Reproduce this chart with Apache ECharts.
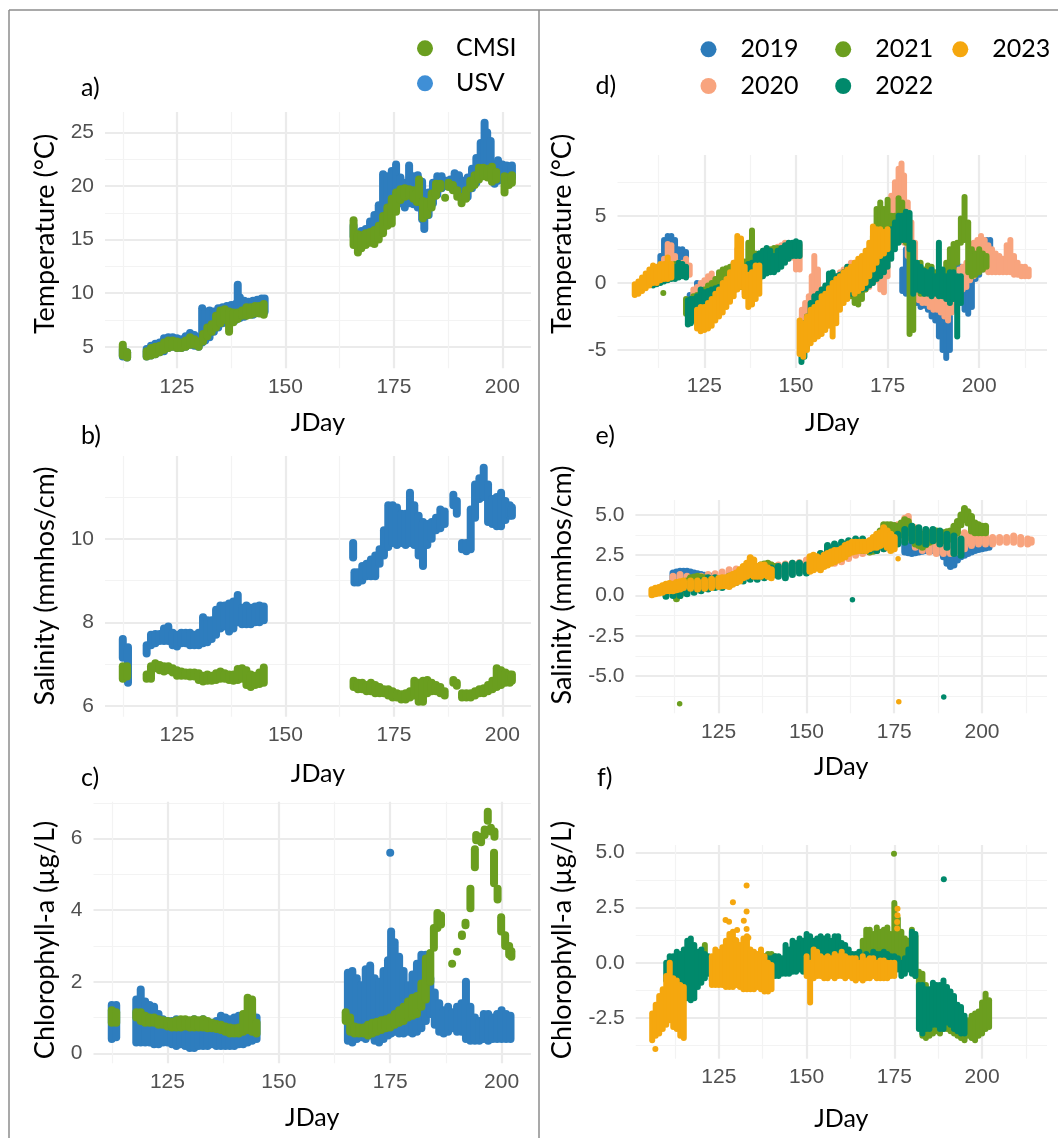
<!DOCTYPE html>
<html>
<head>
<meta charset="utf-8">
<script src="https://cdn.jsdelivr.net/npm/echarts@6/dist/echarts.min.js"></script>
<style>
  html, body { margin: 0; padding: 0; background: #ffffff; }
  #chart { width: 1058px; height: 1138px; }
</style>
</head>
<body>
<div id="chart"></div>
<script>
// Readings are stored as [JDay, low, high]: the spread of the logged values on that day.
// Isolated readings are stored as [JDay, value].

// ---------- tick values ----------
const jdayTicks = [125, 150, 175, 200];
const jdayMinorLeft = [112.5, 137.5, 162.5, 187.5];
const jdayMinorRight = [112.5, 137.5, 162.5, 187.5, 212.5];
const tempTicksL = [5, 10, 15, 20, 25];
const tempMinorL = [7.5, 12.5, 17.5, 22.5];
const salTicksL = [6, 8, 10];
const salMinorL = [7, 9, 11];
const chlTicksL = [0, 2, 4, 6];
const chlMinorL = [1, 3, 5, 7];
const tempTicksR = [-5, 0, 5];
const tempMinorR = [-2.5, 2.5, 7.5];
const salTicksR = [-5, -2.5, 0, 2.5, 5];
const salMinorR = [-6.25, -3.75, -1.25, 1.25, 3.75];
const chlTicksR = [-2.5, 0, 2.5, 5];
const chlMinorR = [-3.75, -1.25, 1.25, 3.75];

// ---------- a) temperature, USV vs CMSI ----------
const tempUSV = [
  [112.5,4.1,4.8],[113.5,4.0,4.5],
  [118,4.1,4.8],[119,4.2,5.1],[120,4.3,5.3],[121,4.5,5.4],[122,4.6,5.8],[123,4.9,5.9],[124,5.0,5.9],[125,4.9,5.8],
  [126,4.9,5.7],[127,5.0,6.0],[128,5.2,6.3],[129,5.1,6.1],[130,5.0,5.9],[130.8,5.4,8.6],[131.5,5.6,8.3],[132.5,5.9,8.4],
  [133.5,6.4,8.3],[134.5,6.8,8.6],[135.5,7.2,8.7],[136.5,7.4,8.8],[137.5,7.3,8.9],[138.5,7.5,9.0],[139,7.7,10.8],
  [139.5,7.7,9.6],[140.5,7.8,9.3],[141.5,8.0,9.2],[142.5,8.0,9.3],[143.5,8.2,9.4],[144.5,8.3,9.5],[145.2,8.3,9.5],
  [165.7,15.3,16.3],[166.5,14.8,15.6],[167.5,14.7,15.8],[168.5,14.9,16.0],[169.5,15.1,16.7],[170.5,15.2,17.3],
  [171.5,15.5,18.2],[172.5,16.0,21.1],[173.5,16.8,20.9],[174.5,17.5,21.4],[175.5,18.2,22.0],[176.5,18.4,20.8],
  [177.5,18.0,20.3],[178.5,18.4,21.9],[179.5,18.3,20.9],[180.5,18.0,21.0],[181.5,16.9,20.4],[182,16.0,19.0],
  [183,17.3,19.4],[184,18.4,20.3],[185,19.2,20.9],[186,19.8,20.9],[187,20.0,20.5],[188,20.0,20.6],[189,19.8,21.2],
  [190,19.9,21.0],[191,19.1,20.5],[192,19.0,20.8],[193,19.8,21.6],[194,20.3,22.6],[195,21.0,24.0],[195.9,21.0,25.9],
  [196.5,21.0,25.0],[197.3,21.2,24.2],[198.2,20.2,22.0],[199,20.5,22.4],[200,20.6,22.0],[201,20.7,21.9],[202.2,20.8,21.9]
];
const tempCMSI = [
  [112.5,4.2,5.2],[113.5,4.0,4.5],
  [118,4.1,4.6],[119,4.2,4.9],[120,4.3,5.0],[121,4.5,5.1],[122,4.7,5.4],[123,4.9,5.6],[124,5.0,5.6],[125,4.9,5.5],
  [126,4.9,5.4],[127,5.0,5.6],[128,5.2,5.9],[129,5.2,5.7],[130,5.0,5.5],[131,5.5,6.2],[132,6.0,6.8],[133,6.4,7.1],
  [134,6.8,7.9],[135,7.2,8.4],[136,7.5,8.5],[137,6.4,8.3],[138,7.3,8.2],[139,7.6,8.2],[140,7.9,8.4],[141,7.9,8.7],
  [142,8.0,8.7],[143,8.1,8.8],[144,8.1,8.8],[145,8.0,9.0],
  [165.7,14.5,16.8],[166.7,13.8,15.5],[167.5,14.2,15.4],[168.5,14.5,15.6],[169.5,14.7,15.7],[170.5,14.6,15.9],
  [171.5,15.0,16.3],[172.5,15.6,17.2],[173.5,16.3,18.0],[174.5,16.5,18.8],[175.5,17.6,19.4],[176.5,18.7,19.7],
  [177.5,19.0,19.8],[178.5,19.1,19.7],[179.5,18.8,19.6],[180.3,18.5,19.5],[180.8,18.5,20.6],[181.7,17.0,18.6],
  [182.7,17.3,18.5],[183.7,18.0,19.3],[184.7,19.1,20.2],[185.7,19.8,20.2],[186.8,18.9,18.9],[187.6,19.9,20.3],
  [188.6,19.6,20.1],[189.6,19.0,19.6],[190.6,18.4,19.0],[191.6,18.8,19.6],[192.6,19.8,20.5],[193.6,20.1,21.0],
  [194.6,20.6,21.7],[195.6,20.9,21.7],[196.6,20.8,21.6],[197.6,20.4,21.8],[198.6,20.6,21.3],[200.5,19.4,20.9],
  [201.5,20.1,20.8],[202.2,20.3,21.0]
];

// ---------- b) salinity, USV vs CMSI ----------
const salUSV = [
  [112.5,7.15,7.6],[113.7,6.55,7.4],
  [118,7.25,7.45],[119,7.45,7.7],[120,7.5,7.72],[121,7.55,7.72],[122,7.55,7.85],[123,7.55,7.9],[124,7.45,7.75],
  [125,7.42,7.7],[126,7.5,7.75],[127,7.5,7.75],[128,7.45,7.75],[129,7.45,7.7],[130,7.45,7.75],[131,7.5,8.12],
  [132,7.52,8.05],[133,7.6,8.05],[134,7.7,8.3],[135,7.85,8.4],[136,7.9,8.4],[137,7.78,8.45],[138,7.85,8.5],
  [139,8.0,8.65],[140,7.95,8.35],[141,7.95,8.4],[142,7.95,8.35],[143,8.0,8.38],[144,8.0,8.4],[145,8.05,8.38],
  [165.6,9.55,9.9],[165.9,8.95,9.2],[166.7,8.95,9.2],[167.7,9.0,9.35],[168.7,9.1,9.4],[169.7,9.1,9.5],[170.7,9.1,9.6],
  [171.7,9.4,9.75],[172.7,9.6,10.2],[173.7,9.8,10.8],[174.7,9.9,10.8],[175.7,9.85,10.75],[176.7,9.9,10.6],
  [177.7,9.85,10.6],[178.7,9.9,11.1],[179.7,9.85,10.8],[180.7,9.6,10.55],[181.7,9.35,10.4],[182.7,9.85,10.35],
  [183.7,10.0,10.4],[184.7,10.2,10.5],[185.7,10.25,10.7],[186.7,10.35,10.65],[188.7,10.8,11.05],[189.5,10.6,10.9],
  [190.7,9.75,9.9],[191.7,9.7,9.9],[192.7,9.75,10.7],[193.7,10.5,11.3],[194.7,10.95,11.45],[195.7,11.0,11.7],
  [196.7,10.4,11.3],[197.7,10.35,10.95],[198.7,10.3,11.0],[199.7,10.3,11.1],[200.7,10.45,10.9],[201.7,10.55,10.8],
  [202.2,10.55,10.75]
];
const salCMSI = [
  [112.5,6.65,6.95],[113.5,6.7,6.95],
  [118,6.65,6.75],[119,6.65,6.95],[120,6.9,7.02],[121,6.85,6.98],[122,6.82,6.95],[123,6.85,6.95],[124,6.8,6.9],
  [125,6.72,6.85],[126,6.72,6.82],[127,6.72,6.8],[128,6.7,6.8],[129,6.7,6.8],[130,6.62,6.78],[131,6.58,6.72],
  [132,6.6,6.75],[133,6.6,6.72],[134,6.62,6.78],[135,6.65,6.82],[136,6.65,6.78],[137,6.62,6.75],[138,6.6,6.75],
  [139,6.62,6.88],[140,6.65,6.9],[141,6.5,6.85],[142,6.45,6.75],[143,6.5,6.72],[144,6.52,6.8],[145,6.55,6.92],
  [165.7,6.45,6.6],[166.7,6.4,6.55],[167.7,6.4,6.55],[168.7,6.35,6.5],[169.7,6.35,6.55],[170.7,6.3,6.5],
  [171.7,6.3,6.45],[172.7,6.3,6.4],[173.7,6.25,6.4],[174.7,6.2,6.35],[175.7,6.2,6.3],[176.7,6.15,6.28],
  [177.7,6.15,6.3],[178.7,6.2,6.35],[179.7,6.25,6.6],[180.7,6.1,6.55],[181.7,6.1,6.6],[182.7,6.3,6.62],
  [183.7,6.35,6.55],[184.7,6.35,6.5],[185.7,6.3,6.45],[186.7,6.25,6.35],[188.7,6.55,6.62],[189.5,6.48,6.55],
  [190.7,6.2,6.3],[191.7,6.2,6.3],[192.7,6.2,6.3],[193.7,6.25,6.35],[194.7,6.3,6.4],[195.7,6.3,6.42],
  [196.7,6.35,6.5],[197.7,6.4,6.6],[198.7,6.45,6.9],[199.7,6.5,6.85],[200.7,6.55,6.8],[201.7,6.55,6.75],
  [202.2,6.6,6.75]
];

// ---------- c) chlorophyll-a, USV vs CMSI ----------
const chlUSV = [
  [112.5,0.4,1.35],[113.5,0.45,1.35],
  [118,0.3,1.5],[119,0.3,1.78],[120,0.3,1.45],[121,0.3,1.35],[122,0.25,1.3],[123,0.25,1.1],[124,0.3,0.95],
  [125,0.3,0.9],[126,0.25,0.9],[127,0.2,0.95],[128,0.25,0.9],[129,0.2,0.85],[130,0.15,0.9],[131,0.15,0.95],
  [132,0.2,0.9],[133,0.2,0.95],[134,0.2,0.85],[135,0.25,0.85],[136,0.2,0.9],[137,0.2,1.05],[138,0.2,1.0],
  [139,0.2,0.95],[140,0.2,1.0],[141,0.25,1.05],[142,0.25,1.0],[143,0.3,1.1],[144,0.35,1.15],[145,0.4,1.0],
  [165.5,0.35,2.25],[166.5,0.3,2.3],[167.5,0.4,2.1],[168.5,0.45,1.9],[169.5,0.4,2.35],[170.5,0.5,2.45],
  [171.5,0.35,2.1],[172.5,0.3,2.0],[173.5,0.4,2.3],[174.5,0.5,2.6],[175.2,0.55,3.4],[176,0.6,3.1],[177,0.55,2.7],
  [178,0.55,2.3],[179,0.6,1.9],[180,0.55,2.2],[181,0.6,2.5],[182,0.7,2.75],[183,0.9,2.75],[184,1.1,2.1],
  [185,0.8,1.7],[186,0.6,1.4],[187,0.55,1.2],[188,0.6,1.3],[189,0.7,1.15],[190,0.6,1.3],[191,0.6,1.4],
  [192,0.4,2.0],[193,0.35,1.3],[194,0.35,1.0],[195,0.35,0.9],[196,0.4,1.1],[197,0.35,1.1],[198,0.4,1.0],
  [199,0.4,1.1],[200,0.4,1.2],[201,0.4,1.1],[202,0.4,1.05]
];
const chlUSVSingles = [[175, 5.6]];
const chlCMSI = [
  [112.5,0.85,1.2],[113.5,0.85,1.15],
  [118,1.0,1.15],[119,0.9,1.15],[120,0.85,1.05],[121,0.85,1.0],[122,0.85,1.0],[123,0.8,0.95],[124,0.8,0.92],
  [125,0.75,0.9],[126,0.72,0.88],[127,0.72,0.92],[128,0.72,0.95],[129,0.75,0.95],[130,0.72,0.92],[131,0.72,0.95],
  [132,0.72,0.92],[133,0.72,0.95],[134,0.7,0.9],[135,0.7,0.85],[136,0.68,0.82],[137,0.65,0.8],[138,0.6,0.75],
  [139,0.55,0.72],[140,0.55,0.7],[141,0.55,0.72],[142,0.6,1.1],[143,0.65,1.55],[144,0.6,1.5],[145,0.55,0.85],
  [165,0.9,1.15],[166,0.6,1.0],[167,0.55,0.75],[168,0.55,0.72],[169,0.55,0.72],[170,0.5,0.8],[171,0.55,0.85],
  [172,0.6,0.88],[173,0.65,0.92],[174,0.7,0.95],[175,0.72,1.0],[176,0.8,1.1],[177,0.85,1.2],[178,0.9,1.3],
  [179,1.0,1.45],[180,1.05,1.55],[181,1.1,1.6],[182,1.3,1.95],[183,1.5,2.65],[184,2.0,2.8],[184.8,2.95,3.5],
  [185.6,3.5,3.92],[186.4,3.6,3.85],
  [188.9,2.5,2.5],[190,2.84,2.84],[191.1,3.28,3.32],[191.9,3.58,3.65],[193,4.05,4.6],[194,5.2,5.7],[194.3,5.95,6.1],
  [195.4,5.9,6.05],[196.2,6.1,6.25],[196.9,6.5,6.75],[197.6,6.2,6.3],[198.4,6.05,6.2],[198.3,4.75,5.6],
  [199.1,4.3,4.6],[199.9,3.4,3.8],[200.8,3.0,3.3],[201.7,2.75,3.0],[202.2,2.7,2.85]
];

// ---------- d) temperature by year ----------
const dTemp2019 = [
  [113,1.0,2.0],[114,1.2,3.2],[115,1.5,3.5],[116,1.4,3.5],[117,1.2,3.2],[118,1.2,2.5],[119,0.8,2.5],[120,0.8,2.3],
  [121,-1.8,-0.9],[122,-1.5,-0.8],[123,-1.2,0.0],[124,-1.0,-0.3],
  [179,-0.6,1.0],[180,-0.8,2.5],[181,-0.5,0.5],[182,-1.5,-0.5],[183,-1.5,-0.8],[184,-1.8,-1.0],[185,-1.7,-1.0],
  [186,-2.0,-1.2],[187,-2.5,-1.3],[188,-2.8,-1.5],[189,-4.0,-2.0],[190,-5.0,-2.5],[191,-5.6,-3.0],[192,-5.0,-2.5],
  [193,-2.0,-0.5],[194,0.3,1.4],[195,0.2,1.2],[196,-2.0,-0.3],[197,-2.3,-0.5],[198,-1.8,0.3],[199,0.3,1.0],
  [200,0.6,1.5],[201,1.0,2.2],[202,2.2,3.2],[203,2.2,3.2]
];
const dTemp2020 = [
  [113,0.4,1.2],[114,0.6,1.8],[115,1.0,2.9],[116,1.0,2.8],[117,0.7,2.0],[118,0.8,1.5],[119,0.6,1.5],[120,0.6,1.8],
  [121,0.6,1.3],
  [122,-2.0,-0.5],[123,-1.8,-0.3],[124,-1.5,0.0],[125,-1.3,0.2],[126,-1.0,0.5],[127,-1.0,0.7],[128,-0.8,0.3],
  [129,-0.7,0.4],[130,-0.5,0.5],[131,-0.5,0.3],[132,-0.3,0.9],[133,-0.3,1.5],[134,-0.3,2.5],[135,0.0,2.0],
  [136,-0.8,1.0],[137,-0.5,1.0],[138,-0.2,1.3],[139,0.2,1.6],[140,0.5,1.8],[141,0.8,2.0],[142,1.0,2.0],
  [143,1.2,2.2],[144,1.4,2.4],[145,1.6,2.7],[146,1.6,2.8],[147,1.8,3.0],[148,1.8,2.8],[149,1.9,2.9],[150,1.0,3.0],
  [151,1.0,2.8],
  [151.6,-3.8,-2.0],[152.5,-3.5,-1.5],[153.5,-3.0,-1.0],[154.3,-2.5,0.5],[155,-2.0,2.0],[156,-2.0,1.0],
  [157,-2.5,-0.5],[158,-2.3,-0.3],[159,-2.0,0.0],[160,-1.5,0.3],[161,-1.0,0.5],[162,-0.8,0.8],[163,-0.5,1.0],
  [164,-0.5,1.2],[165,0.0,1.5],[166,0.2,1.5],[167,0.0,1.5],[168,-0.5,1.5],[169,-0.5,2.0],[170,-0.3,2.5],
  [171,0.0,3.0],[172,0.2,3.5],[173,-0.5,4.0],[174,-0.7,4.5],[175,0.5,5.0],[176,3.5,6.5],[177,4.0,7.5],
  [178,3.8,8.5],[178.8,3.5,8.9],[179.5,3.0,8.0],[180.5,2.0,6.0],[181.5,-0.8,4.5],[182.5,-1.0,3.0],
  [183.5,-1.3,0.0],[184.5,-1.5,0.0],[185.5,-1.5,-0.2],[186.5,-1.8,0.0],[187.5,-2.0,-0.3],[188.5,-2.0,-0.3],
  [189.5,-2.2,-0.5],[190.5,-2.5,-0.5],[191.5,-2.8,-0.3],[192.5,-2.2,0.0],[193.5,-1.2,0.8],[194.5,-0.8,1.0],
  [195.5,-0.5,1.2],[196.5,-0.3,1.5],[197.5,0.2,2.8],[198.5,0.5,3.0],[199.5,0.8,3.2],[200.5,1.0,3.5],
  [201.5,1.0,3.2],[202.5,0.8,2.8],[203.5,0.8,2.5],[204.5,0.8,2.2],[205.5,0.8,2.0],[206.5,0.8,1.8],
  [207.5,0.8,2.8],[208.5,0.8,3.2],[209.5,0.6,2.0],[210.5,0.6,1.5],[211.5,0.5,1.2],[212.5,0.5,1.2],[213.5,0.5,1.0]
];
const dTemp2021 = [
  [113.8,-0.75,-0.75],[115,0.5,1.3],[116,0.5,1.3],[117,0.6,1.4],[118,0.6,1.3],
  [120,-2.3,-1.2],[121,-2.2,-1.3],[122,-2.0,-1.0],[123,-1.8,-0.9],[124,-1.6,-0.8],[125,-1.3,-0.5],[126,-1.0,-0.2],
  [127,-0.8,0.0],[128,-0.6,0.3],[129,-0.3,0.8],[130,-0.2,1.0],[131,0.0,1.1],[132,0.2,1.2],[133,0.3,1.4],
  [134,0.5,1.2],[135,0.3,1.0],[136,0.4,1.6],[137,0.5,3.0],[138,0.6,3.9],[139,0.8,2.2],[140,1.0,2.2],[141,1.2,2.4],
  [142,1.4,2.5],[143,1.5,2.5],[144,1.6,2.6],[145,1.6,2.6],[146,1.6,2.4],
  [160,-1.8,-0.3],[161,-1.5,0.0],[162,-1.0,0.3],[163,-0.5,0.8],[164,-0.8,1.0],[165,-1.0,0.8],[166,-1.5,0.5],
  [167,-1.6,0.3],[168,-1.2,0.8],[169,-0.5,1.5],[170,0.0,2.5],[171,0.5,3.5],[172,1.0,5.5],[173,1.5,6.0],
  [174,2.0,5.5],[175,2.5,6.2],[176,3.0,5.0],[177,3.5,5.0],[178,3.5,6.3],[179,3.8,6.0],[180,3.0,5.0],
  [181,-3.8,3.0],[182,-3.5,1.0],
  [183,-0.5,1.2],[184,-0.8,1.5],[185,-0.8,1.0],[186,-0.5,1.3],[187,-0.3,1.2],[188,-0.5,0.8],[189,-0.5,0.5],
  [190,-0.8,0.5],[191,0.0,1.5],[192,0.5,2.5],[193,1.0,2.9],[194,1.5,3.0],[195,3.0,4.8],[196,3.2,6.4],
  [197,0.8,4.5],[198,0.5,2.5],[199,0.6,2.2],[200,0.8,2.5],[201,1.0,2.2],[202,1.2,2.0]
];
const dTemp2022 = [
  [111,-0.2,0.3],[112,-0.1,0.5],[113,0.0,0.7],[114,0.1,0.9],[115,0.2,1.2],[116,0.3,1.3],[117,0.3,1.2],
  [118,0.4,1.5],[119,0.5,1.4],[120,0.4,1.2],
  [120.5,-3.1,-1.3],[121.3,-3.0,-1.2],[122,-2.8,-1.2],[123,-2.5,-1.0],[124,-2.3,-0.5],[125,-2.3,-0.7],
  [126,-2.1,-0.6],[127,-1.8,-0.5],[128,-1.6,-0.4],[129,-1.5,-0.3],[130,-1.3,0.0],[131,-1.0,0.3],[132,-0.8,0.5],
  [133,-0.6,0.6],[134,-0.3,0.8],[135,-0.3,1.0],[136,0.0,1.2],[137,0.0,1.4],[138,0.0,1.5],[139,-0.3,2.0],
  [140,0.3,2.2],[141,0.5,2.4],[142,0.7,2.6],[143,0.8,2.4],[144,0.8,2.0],[145,1.0,2.4],[146,1.2,2.6],
  [147,1.5,2.8],[148,1.8,3.0],[149,2.0,3.0],[150,2.0,3.1],[151,2.0,3.0],
  [151.5,-5.9,-3.5],[152.3,-5.5,-3.0],[153,-4.8,-2.5],[154,-4.0,-1.5],[155,-3.5,-1.0],[156,-3.0,-0.8],
  [157,-2.8,-0.5],[158,-2.5,-0.2],[159,-2.8,0.7],[160,-2.5,0.8],[161,-2.0,0.5],[162,-1.5,0.6],[163,-1.2,0.8],
  [164,-1.0,1.2],[165,-0.8,1.0],[166,-0.5,1.3],[167,-0.5,1.5],[168,-0.5,1.0],[169,-0.4,1.5],[170,-0.2,1.8],
  [171,0.0,2.2],[172,0.3,2.5],[173,0.5,3.0],[174,0.8,3.2],[175,1.2,3.5],[176,1.8,4.0],[177,2.5,4.5],
  [178,3.0,5.0],[179,3.2,5.0],[180,3.2,5.3],[181,2.5,5.2],
  [182,-0.8,3.0],[183,-0.5,1.5],[184,-0.6,1.2],[185,-0.8,0.9],[186,-0.8,0.8],[187,-1.0,1.0],[188,-0.8,0.5],
  [189,-1.0,3.0],[190,-1.0,1.0],[191,-1.2,0.5],[192,-1.5,0.8],[193,-1.2,0.8],[194,-4.0,0.5],[195,-1.5,0.5]
];
const dTemp2023 = [
  [106,-0.9,-0.1],[107,-0.8,0.1],[108,-0.6,0.4],[109,-0.4,0.7],[110,-0.2,1.0],[111,0.0,1.3],[112,0.0,1.2],
  [113,0.2,1.4],[114,0.3,1.4],[115,0.3,1.9],[116,0.4,1.4],
  [123,-3.4,-2.0],[124,-3.6,-1.8],[125,-3.5,-1.8],[126,-3.4,-1.5],[127,-3.2,-1.2],[128,-2.8,-0.8],[129,-2.5,-0.5],
  [130,-2.2,0.0],[131,-1.8,0.3],[132,-1.4,0.8],[133,-1.0,1.5],[134,-0.5,3.5],[135,-0.3,3.3],[136,-1.0,1.2],
  [137,-1.8,0.6],[138,-1.6,0.8],[139,-1.2,1.3],[140,-0.8,1.3],
  [151,-5.3,-2.8],[152,-5.5,-3.0],[153,-5.0,-2.5],[154,-4.5,-2.0],[155,-4.2,-1.8],[156,-4.0,-1.5],
  [157,-3.8,-1.0],[158,-3.5,-0.8],[159,-3.2,-0.4],[160,-4.0,0.0],[161,-3.0,0.3],[162,-2.0,0.5],[163,-1.5,0.8],
  [164,-1.2,1.0],[165,-0.5,1.2],[166,-0.8,1.5],[167,-0.6,1.8],[168,-0.4,2.0],[169,0.0,2.4],[170,0.5,3.0],
  [171,1.0,4.2],[172,1.5,4.0],[173,2.0,4.0],[174,2.2,3.8],[175,2.5,4.0]
];

// ---------- e) salinity by year ----------
const eSal2019 = [
  [112,0.8,1.4],[113,0.85,1.45],[114,0.9,1.5],[115,0.9,1.5],[116,0.9,1.5],[117,0.85,1.45],[118,0.8,1.4],
  [119,0.8,1.35],[120,0.8,1.3],[121,0.75,1.25],[122,0.7,1.2],[123,0.7,1.2],[124,0.7,1.2],
  [178,2.7,3.4],[179,2.65,3.35],[180,2.6,3.3],[181,2.65,3.3],[182,2.7,3.3],[183,2.75,3.3],[184,2.8,3.3],
  [185,2.8,3.25],[186,2.8,3.2],[187,2.75,3.15],[188,2.7,3.1],[189,2.4,3.0],[190,2.0,2.9],[191,1.8,2.6],
  [192,1.9,2.5],[193,2.2,2.8],[194,2.4,3.0],[195,2.5,3.0],[196,2.6,3.0],[197,2.7,3.2],[198,2.8,3.3],
  [199,2.85,3.35],[200,2.9,3.4],[201,2.95,3.4],[202,3.0,3.4]
];
const eSal2020 = [
  [112,0.7,1.2],[114,0.8,1.3],[116,0.8,1.2],[118,0.7,1.1],[120,0.7,1.2],[122,0.8,1.3],[124,0.85,1.35],
  [126,0.9,1.45],[128,1.0,1.6],[130,1.05,1.65],[132,1.1,1.7],[134,1.2,1.8],[136,1.2,1.8],[138,1.25,1.85],
  [140,1.3,1.9],[142,1.35,1.9],[144,1.4,1.95],[146,1.5,2.0],[148,1.55,2.05],[150,1.65,2.2],[152,1.8,2.4],
  [154,1.9,2.6],[156,2.0,2.8],[158,2.0,2.9],[160,2.1,3.0],[162,2.3,3.1],[164,2.5,3.2],[166,2.6,3.3],
  [168,2.7,3.4],[170,2.8,3.5],[172,2.9,3.8],[174,3.0,4.0],[176,3.3,4.4],[178,3.6,4.8],[179,3.5,4.9],
  [181,3.0,4.2],[183,2.8,3.9],[185,2.7,3.6],[187,2.6,3.5],[189,2.6,3.4],[191,2.6,3.4],[193,2.7,3.6],
  [195,2.9,3.9],[197,3.1,3.9],[199,3.2,3.8],[201,3.2,3.7],[203,3.2,3.6],[205,3.3,3.6],[207,3.3,3.6],
  [209,3.3,3.7],[211,3.2,3.6],[213,3.2,3.5],[214,3.3,3.45]
];
const eSal2021 = [
  [113,-0.2,0.3],[114,0.0,0.5],[115,0.2,0.7],[116,0.35,0.9],[117,0.5,1.1],[118,0.55,1.15],[119,0.6,1.2],
  [120,0.6,1.15],[121,0.6,1.1],[122,0.65,1.05],[123,0.7,1.0],
  [135,1.2,1.6],[136,1.25,1.75],[137,1.3,1.9],[138,1.35,1.95],[139,1.4,2.0],[140,1.35,1.9],[141,1.3,1.8],
  [168,2.7,3.3],[169,2.75,3.45],[170,2.8,3.6],[171,3.1,4.0],[172,3.5,4.4],[173,3.7,4.4],[174,3.8,4.4],
  [175,3.75,4.35],[176,3.7,4.3],[177,3.75,4.5],[178,3.8,4.7],[179,3.9,4.6],[180,3.5,4.3],[181,3.2,4.1],
  [182,3.1,3.9],[183,3.0,3.8],[184,3.15,3.85],[185,3.3,3.9],[186,3.4,3.95],[187,3.5,4.0],[188,3.45,3.95],
  [189,3.4,3.9],[190,3.45,3.95],[191,3.5,4.0],[192,3.7,4.3],[193,3.9,4.6],[194,4.4,5.0],[195,4.7,5.4],
  [196,4.5,5.2],[197,4.0,4.9],[198,3.9,4.5],[199,3.9,4.4],[200,3.9,4.3],[201,3.9,4.3]
];
const eSal2021Singles = [[113.9, -6.73]];
const eSal2022 = [
  [110,-0.05,0.3],[112,0.0,0.45],[114,0.0,0.5],[116,0.1,0.6],[118,0.2,0.7],[120,0.3,0.9],[122,0.4,1.1],
  [124,0.5,1.1],[126,0.5,1.0],[128,0.6,1.2],[130,0.8,1.3],[132,0.9,1.4],[134,1.0,1.5],[136,1.0,1.6],
  [138,1.1,1.6],[140,1.2,1.7],[142,1.2,1.8],[144,1.1,1.9],[146,1.3,2.0],[148,1.4,2.0],[150,1.4,1.9],
  [152,1.7,2.2],[154,2.0,2.6],[156,2.3,3.1],[158,2.4,3.2],[160,2.6,3.3],[162,2.8,3.4],[164,3.0,3.5],
  [166,2.8,3.5],[168,2.8,3.3],[170,2.8,3.2],[172,2.9,3.5],[174,3.0,3.6],[176,3.2,3.8],[178,3.3,4.1],
  [180,3.4,4.3],[182,3.3,4.2],[184,3.2,4.1],[186,3.4,4.1],[188,3.2,4.0],[190,3.0,3.8],[192,2.6,3.7],
  [194,2.5,3.5]
];
const eSal2022Singles = [[163.1, -0.27], [189.1, -6.3]];
const eSal2023 = [
  [106,0.05,0.35],[107,0.1,0.45],[108,0.15,0.5],[109,0.2,0.6],[110,0.3,0.7],[111,0.3,0.75],[112,0.3,0.7],
  [113,0.35,0.8],[114,0.4,0.85],[115,0.5,0.9],[117,0.45,0.9],[119,0.4,0.9],[121,0.45,0.95],[123,0.5,1.0],
  [125,0.55,1.05],[126,0.6,1.1],[127,0.6,1.1],[128,0.55,1.2],[129,0.7,1.3],[130,0.8,1.4],[131,0.9,1.6],
  [132,1.1,1.8],[133,1.2,2.0],[134,1.3,2.35],[135,1.2,2.2],[136,1.2,1.8],[137,1.2,1.9],[138,1.3,1.9],
  [139,1.2,1.7],[140,1.1,1.6],
  [151,1.5,2.4],[152,1.6,2.5],[153,1.7,2.4],[154,1.6,2.3],[155,1.8,2.5],[156,1.9,2.6],[157,2.0,2.7],
  [158,2.1,2.8],[159,2.2,2.8],[160,2.3,2.9],[161,2.4,3.1],[162,2.6,3.2],[163,2.7,3.3],[164,2.75,3.3],
  [165,2.8,3.3],[166,2.8,3.3],[167,2.8,3.3],[168,2.9,3.4],[169,3.0,3.6],[170,3.0,3.8],[171,3.1,3.9],
  [172,3.2,4.2],[173,3.0,4.0],[174,2.8,3.8],[175,2.9,3.6]
];
const eSal2023Singles = [[176.1, 2.28], [176.3, -6.6]];

// ---------- f) chlorophyll-a by year ----------
const fChl2021 = [
  [121,0.4,0.8],[139,0.1,0.4],[140,0.1,0.4],[141,0.0,0.3],
  [166,-0.5,1.0],[167,0.0,1.5],[168,0.2,1.5],[169,0.2,1.3],[170,0.3,1.6],[171,0.2,1.4],[172,0.3,1.5],
  [173,0.2,1.6],[174,0.0,1.3],[175,0.0,2.7],[176,0.0,2.0],[177,0.2,1.4],[178,0.1,1.1],[179,0.2,1.0],
  [180,0.0,1.5],[181,-0.6,1.2],[182,-1.2,-0.4],[183,-3.3,-0.5],[184,-3.4,-1.0],[185,-3.3,-1.3],[186,-3.2,-1.5],
  [187,-3.1,-1.5],[188,-3.2,-1.6],[189,-3.0,-1.7],[190,-3.0,-1.8],[191,-3.1,-2.0],[192,-3.2,-1.8],
  [193,-3.3,-2.0],[194,-3.4,-2.4],[195,-3.5,-2.7],[196,-3.3,-2.6],[197,-3.4,-2.4],[198,-3.5,-2.3],
  [199,-3.3,-2.2],[200,-3.2,-1.8],[201,-3.0,-1.4],[202,-2.9,-1.7]
];
const fChl2021Singles = [[174.9, 4.93]];
const fChl2022 = [
  [110,-0.8,0.0],[111,-0.7,0.3],[112,-0.9,0.3],[113,-1.0,0.5],[114,-1.2,0.4],[115,-1.3,0.6],[116,-1.6,1.0],
  [117,-1.7,1.1],[118,-1.6,0.8],[119,-1.1,0.5],[120,-0.9,0.6],[121,-0.7,0.4],[122,-0.5,0.3],[123,-0.8,0.0],
  [124,-0.7,0.1],[125,-0.7,0.2],[126,-0.7,0.2],[127,-0.6,0.1],[128,-0.6,0.1],[129,-0.6,0.1],[130,-0.5,0.2],
  [131,-0.5,0.3],[132,-0.5,0.3],[133,-0.4,0.2],[134,-0.4,0.1],[135,-0.4,0.1],[136,-0.3,0.2],[137,-0.3,0.3],
  [138,-0.3,0.3],[139,-0.4,0.2],[140,-0.5,0.2],[141,-0.6,0.3],[142,-0.6,0.3],[143,-0.5,0.2],[144,-0.5,0.8],
  [145,-0.5,0.6],[146,-0.4,1.0],[147,-0.4,0.9],[148,-0.3,1.1],[149,-0.4,1.0],[150,-0.3,1.3],[151,-0.4,1.2],
  [152,-0.3,1.0],[153,-0.3,1.1],[154,-0.2,1.2],[155,-0.3,1.1],[156,-0.3,1.2],[157,-0.2,1.0],[158,-0.3,1.2],
  [159,-0.3,1.2],[160,-0.2,0.9],[161,-0.2,0.8],[162,-0.1,0.6],[163,0.0,0.4],[164,0.0,0.4],[165,0.0,0.5],
  [166,-0.1,0.3],[167,0.0,0.4],[168,0.0,0.3],[169,0.0,0.5],[170,0.0,0.4],[171,-0.1,0.4],[172,0.0,0.5],
  [173,0.0,0.4],[174,0.0,0.3],[175,0.0,0.3],[176,-0.3,0.2],[177,-0.6,0.0],[178,-0.5,0.2],[179,-0.3,0.6],
  [180,-0.5,1.4],[181,-0.6,1.3],[182,-3.0,-1.0],[183,-3.2,-1.0],[184,-3.0,-1.2],[185,-3.0,-1.2],
  [186,-2.8,-0.9],[187,-2.8,-1.0],[188,-3.0,-1.0],[189,-3.0,-0.8],[190,-2.7,-1.1],[191,-2.8,-1.3],
  [192,-3.0,-1.5],[193,-3.1,-1.9],[194,-3.2,-2.0],[195,-3.2,-2.4]
];
const fChl2022Singles = [[189.1, 3.78]];
const fChl2023 = [
  [106,-3.5,-2.3],[107,-3.3,-1.9],[108,-3.2,-1.5],[109,-3.0,-1.2],[110,-2.8,-0.6],[111,-2.6,0.0],[112,-2.9,-0.7],
  [113,-3.0,-0.8],[114,-3.3,-1.0],[115,-3.4,-1.1],
  [123,-1.0,0.3],[124,-1.0,0.6],[125,-1.0,0.5],[126,-1.0,0.7],[127,-1.1,1.0],[128,-1.1,1.3],[129,-1.1,1.4],
  [130,-1.0,1.0],[131,-1.1,0.8],[132,-1.2,1.1],[133,-1.2,1.2],[134,-1.2,0.6],[135,-1.2,0.5],[136,-1.1,0.4],
  [137,-1.2,0.6],[138,-1.3,0.3],[139,-1.3,0.0],[140,-1.2,-0.1],
  [150,-0.6,0.3],[151,-1.8,0.0],[152,-0.7,0.6],[153,-0.6,0.5],[154,-0.6,0.3],[155,-0.7,0.2],[156,-0.7,0.3],
  [157,-0.6,0.2],[158,-0.7,0.4],[159,-0.6,0.3],[160,-0.6,0.5],[161,-0.7,0.3],[162,-0.6,0.2],[163,-0.7,0.2],
  [164,-0.8,0.2],[165,-0.7,0.0],[166,-0.8,0.3],[167,-0.7,0.1],[168,-0.7,0.2],[169,-0.6,0.2],[170,-0.7,0.0],
  [171,-0.7,0.1],[172,-0.7,0.1],[173,-0.7,0.0],[174,-0.6,0.0],[175,-0.6,0.0]
];
const fChl2023Singles = [
  [106.9,-3.9],[126.9,1.94],[127.9,1.86],[129,2.74],[130.2,1.48],[129.8,1.03],[132.1,1.9],[132.9,1.53],
  [132.9,2.32],[132.9,3.5],[133.4,1.13],[175.8,1.55],[175.8,1.85],[175.9,2.15],[175.9,2.45]
];

// ---------- look ----------
const COLORS = {
  USV: '#2E7DBE', CMSI: '#6A9E1F',
  '2019': '#2C7BBA', '2020': '#F8A47E', '2021': '#6B9E1F', '2022': '#00896B', '2023': '#F5A70E'
};
const TITLE_FONT = 'Lato';
const TICK_FONT = 'Liberation Sans';

// panel frames: grid box, axis ranges, tick sets, x-title gap
const panels = [
  { grid: {left: 105, top: 112, width: 426, height: 256.3}, x: [108.4, 206.6], y: [3.0, 26.9],
    xm: jdayMinorLeft, yt: tempTicksL, ym: tempMinorL, dec: 0, gap: 42 },
  { grid: {left: 105, top: 456, width: 426, height: 260.7}, x: [108.4, 206.6], y: [5.74, 11.98],
    xm: jdayMinorLeft, yt: salTicksL, ym: salMinorL, dec: 0, gap: 45 },
  { grid: {left: 93.5, top: 801.7, width: 437.5, height: 261.6}, x: [108.4, 206.6], y: [-0.28, 7.03],
    xm: jdayMinorLeft, yt: chlTicksL, ym: chlMinorL, dec: 0, gap: 42 },
  { grid: {left: 617.5, top: 155, width: 429.5, height: 213}, x: [101.3, 218.5], y: [-6.34, 9.53],
    xm: jdayMinorRight, yt: tempTicksR, ym: tempMinorR, dec: 0, gap: 42 },
  { grid: {left: 635.4, top: 500, width: 411.6, height: 213.3}, x: [101.3, 218.5], y: [-7.32, 5.93],
    xm: jdayMinorRight, yt: salTicksR, ym: salMinorR, dec: 1, gap: 41 },
  { grid: {left: 635.7, top: 845, width: 411.3, height: 213.7}, x: [101.3, 218.5], y: [-4.34, 5.33],
    xm: jdayMinorRight, yt: chlTicksR, ym: chlMinorR, dec: 1, gap: 48 }
];

const MAJOR = {color: '#EBEBEB', width: 2.2};
const MINOR = {color: '#F3F3F3', width: 1.2};

const grids = [], xAxes = [], yAxes = [];
panels.forEach((p, i) => {
  grids.push(Object.assign({containLabel: false}, p.grid));
  xAxes.push({
    type: 'value', gridIndex: i, min: p.x[0], max: p.x[1], position: 'bottom',
    axisLine: {show: false}, axisTick: {show: false, customValues: jdayTicks},
    axisLabel: {customValues: jdayTicks, margin: 8, fontFamily: TICK_FONT, fontSize: 21, color: '#505050'},
    splitLine: {show: true, lineStyle: MAJOR},
    name: 'JDay', nameLocation: 'middle', nameGap: p.gap,
    nameTextStyle: {fontFamily: TITLE_FONT, fontSize: 25, color: '#000'}
  });
  xAxes.push({
    type: 'value', gridIndex: i, min: p.x[0], max: p.x[1], position: 'top',
    axisLine: {show: false}, axisTick: {show: false, customValues: p.xm},
    axisLabel: {show: false}, splitLine: {show: true, lineStyle: MINOR}
  });
  yAxes.push({
    type: 'value', gridIndex: i, min: p.y[0], max: p.y[1], position: 'left',
    axisLine: {show: false}, axisTick: {show: false, customValues: p.yt},
    axisLabel: {customValues: p.yt, margin: 11, fontFamily: TICK_FONT, fontSize: 21, color: '#505050',
      formatter: (v) => p.dec ? Number(v).toFixed(p.dec) : String(v)},
    splitLine: {show: true, lineStyle: MAJOR}
  });
  yAxes.push({
    type: 'value', gridIndex: i, min: p.y[0], max: p.y[1], position: 'right',
    axisLine: {show: false}, axisTick: {show: false, customValues: p.ym},
    axisLabel: {show: false}, splitLine: {show: true, lineStyle: MINOR}
  });
});

// vertical run of readings on one day, drawn as a round-capped stroke one dot wide
function stackRenderer(lw) {
  return function (params, api) {
    const x = api.value(0);
    const a = api.coord([x, api.value(1)]);
    const b = api.coord([x, api.value(2)]);
    const color = api.visual('color');
    if (Math.abs(a[1] - b[1]) < 0.5) {
      return {type: 'circle', shape: {cx: a[0], cy: a[1], r: lw / 2}, style: {fill: color}};
    }
    return {type: 'line', shape: {x1: a[0], y1: a[1], x2: b[0], y2: b[1]},
      style: {stroke: color, lineWidth: lw, lineCap: 'round'}};
  };
}
function stacks(name, data, panel, lw) {
  return {type: 'custom', name, data, xAxisIndex: 2 * panel, yAxisIndex: 2 * panel,
    itemStyle: {color: COLORS[name]}, encode: {x: 0, y: [1, 2]},
    renderItem: stackRenderer(lw), silent: true, animation: false};
}
function dots(name, data, panel, size) {
  return {type: 'scatter', name, data, xAxisIndex: 2 * panel, yAxisIndex: 2 * panel,
    symbol: 'circle', symbolSize: size, itemStyle: {color: COLORS[name], opacity: 1},
    silent: true, animation: false};
}

const series = [
  stacks('USV', tempUSV, 0, 8), stacks('CMSI', tempCMSI, 0, 8),
  stacks('USV', salUSV, 1, 8), stacks('CMSI', salCMSI, 1, 8),
  stacks('USV', chlUSV, 2, 8), stacks('CMSI', chlCMSI, 2, 8), dots('USV', chlUSVSingles, 2, 8),
  stacks('2019', dTemp2019, 3, 6), stacks('2020', dTemp2020, 3, 6), stacks('2021', dTemp2021, 3, 6),
  stacks('2022', dTemp2022, 3, 6), stacks('2023', dTemp2023, 3, 6),
  stacks('2019', eSal2019, 4, 7), stacks('2020', eSal2020, 4, 7), stacks('2021', eSal2021, 4, 7),
  stacks('2022', eSal2022, 4, 7), stacks('2023', eSal2023, 4, 7),
  dots('2021', eSal2021Singles, 4, 5.5), dots('2022', eSal2022Singles, 4, 5.5), dots('2023', eSal2023Singles, 4, 5.5),
  stacks('2021', fChl2021, 5, 6), stacks('2022', fChl2022, 5, 6), stacks('2023', fChl2023, 5, 6),
  dots('2021', fChl2021Singles, 5, 6), dots('2022', fChl2022Singles, 5, 6), dots('2023', fChl2023Singles, 5, 6)
];

const legendBase = {
  orient: 'vertical', padding: 0, itemWidth: 16, itemHeight: 16, icon: 'circle', selectedMode: false
};
const legendText = (pad) => ({fontFamily: TITLE_FONT, fontSize: 25, color: '#000', lineHeight: 30,
  padding: [0, 0, 0, pad]});
const legends = [
  Object.assign({}, legendBase, {data: ['CMSI', {name: 'USV', itemStyle: {color: '#3F8FD6'}}],
    left: 417, top: 33.3, itemGap: 5, textStyle: legendText(18)}),
  Object.assign({}, legendBase, {data: ['2019', '2020'], left: 700.5, top: 34.3, itemGap: 6.7, textStyle: legendText(19)}),
  Object.assign({}, legendBase, {data: ['2021', '2022'], left: 835.2, top: 34.3, itemGap: 6.7, textStyle: legendText(19)}),
  Object.assign({}, legendBase, {data: ['2023'], left: 952.3, top: 34.3, itemGap: 6.7, textStyle: legendText(19)})
];

// figure frame, panel letters and y titles
function label(text, x, y) {
  return {type: 'text', x, y, silent: true,
    style: {text, fontFamily: TITLE_FONT, fontSize: 25, fill: '#000',
      align: 'left', verticalAlign: 'middle', textAlign: 'left', textVerticalAlign: 'middle'}};
}
function yTitle(text, x, y) {
  return {type: 'text', x, y, rotation: Math.PI / 2, silent: true,
    style: {text, fontFamily: TITLE_FONT, fontSize: 27, fill: '#000',
      align: 'center', verticalAlign: 'middle', textAlign: 'center', textVerticalAlign: 'middle'}};
}
function rule(x1, y1, x2, y2) {
  return {type: 'line', silent: true, shape: {x1, y1, x2, y2}, style: {stroke: '#8C8C8C', lineWidth: 1.5}};
}
const graphics = [
  rule(9, 10, 1058, 10), rule(9, 10, 9, 1138), rule(539, 10, 539, 1138),
  label('a)', 81, 88), label('b)', 81, 436), label('c)', 81, 778),
  label('d)', 595.5, 86), label('e)', 595.5, 436), label('f)', 597, 778),
  yTitle('Temperature (°C)', 45, 234), yTitle('Salinity (mmhos/cm)', 45, 586), yTitle('Chlorophyll-a (µg/L)', 45, 940),
  yTitle('Temperature (°C)', 562, 234), yTitle('Salinity (mmhos/cm)', 562, 585), yTitle('Chlorophyll-a (µg/L)', 562, 940)
];

const chart = echarts.init(document.getElementById('chart'), null, {renderer: 'canvas'});
chart.setOption({
  backgroundColor: '#ffffff',
  animation: false,
  grid: grids,
  xAxis: xAxes,
  yAxis: yAxes,
  legend: legends,
  graphic: graphics,
  series: series
});
</script>
</body>
</html>
